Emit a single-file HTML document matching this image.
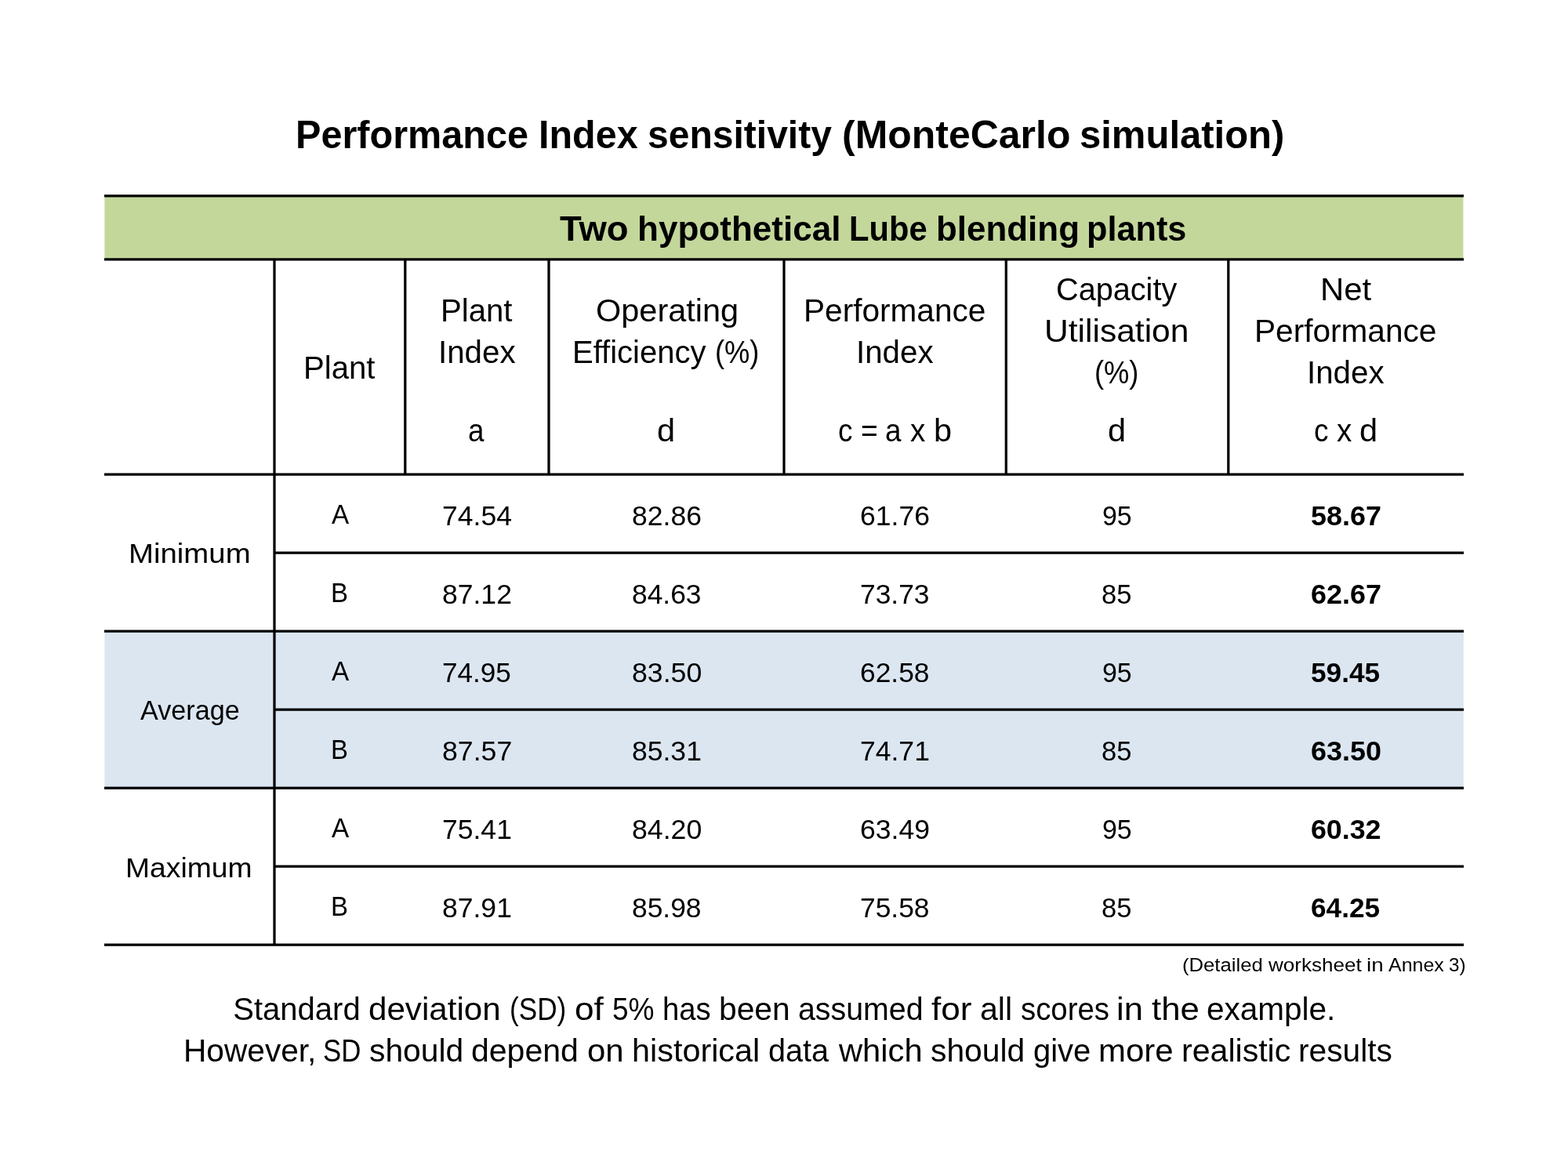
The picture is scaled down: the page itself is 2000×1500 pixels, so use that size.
<!DOCTYPE html>
<html lang="en">
<head>
<meta charset="utf-8">
<title>Performance Index sensitivity (MonteCarlo simulation)</title>
<style>
html,body{margin:0;padding:0;background:#fff}
body{width:2000px;height:1500px;position:relative;overflow:hidden;font-family:"Liberation Sans",Arial,Helvetica,sans-serif;color:#000;font-variant-ligatures:none}
#grid{position:absolute;left:0;top:0;width:2000px;height:1500px}
.t{position:absolute;white-space:nowrap;line-height:0;height:0;margin:0;padding:0;transform-origin:0 0}
.t span{display:inline-block;line-height:0;vertical-align:baseline;transform-origin:0 0;white-space:pre}
.b{font-weight:700}
</style>
</head>
<body>
<svg id="grid" width="2000" height="1500" viewBox="0 0 2000 1500">
<rect x="133.4" y="250" width="1733" height="81" fill="#C4D79B"/>
<rect x="133.4" y="805.2" width="1733.4" height="200" fill="#DCE6F1"/>
<g stroke="#000" stroke-width="3.25" fill="none">
<line x1="133.0" y1="249.9" x2="1867.0" y2="249.9"/>
<line x1="133.0" y1="330.8" x2="1867.0" y2="330.8"/>
<line x1="133.0" y1="605.2" x2="1867.0" y2="605.2"/>
<line x1="350" y1="705.2" x2="1867.0" y2="705.2"/>
<line x1="133.0" y1="805.2" x2="1867.0" y2="805.2"/>
<line x1="350" y1="905.2" x2="1867.0" y2="905.2"/>
<line x1="133.0" y1="1005.2" x2="1867.0" y2="1005.2"/>
<line x1="350" y1="1105.2" x2="1867.0" y2="1105.2"/>
<line x1="133.0" y1="1205.2" x2="1867.0" y2="1205.2"/>
<line x1="350.0" y1="330.8" x2="350.0" y2="1205.2"/>
<line x1="516.8" y1="330.8" x2="516.8" y2="605.2"/>
<line x1="700.0" y1="330.8" x2="700.0" y2="605.2"/>
<line x1="1000.0" y1="330.8" x2="1000.0" y2="605.2"/>
<line x1="1283.3" y1="330.8" x2="1283.3" y2="605.2"/>
<line x1="1566.8" y1="330.8" x2="1566.8" y2="605.2"/>
</g>
</svg>
<h1 class="t b" style="left:376.76px;top:172px;font-size:50px"><span style="width:310.12px;transform:scaleX(0.9718)">Performance </span><span style="width:138.83px;transform:scaleX(0.9701)">Index </span><span style="width:248.71px;transform:scaleX(0.9604)">sensitivity </span><span style="width:303.09px;transform:scaleX(0.9994)">(MonteCarlo </span><span style="width:261.38px;transform:scaleX(0.9801)">simulation)</span></h1>
<div class="t b" style="left:714.33px;top:292px;font-size:45px"><span style="width:98.54px;transform:scaleX(1.0099)">Two </span><span style="width:270.15px;transform:scaleX(0.9788)">hypothetical </span><span style="width:111.27px;transform:scaleX(0.927)">Lube </span><span style="width:191.75px;transform:scaleX(0.9761)">blending </span><span style="width:127.44px;transform:scaleX(0.9616)">plants</span></div>
<div class="t" style="left:387.35px;top:469px;font-size:40px;transform:scaleX(1.0038)">Plant</div>
<div class="t" style="left:562.35px;top:396px;font-size:40px;transform:scaleX(1.0038)">Plant</div>
<div class="t" style="left:559.18px;top:449px;font-size:40px;transform:scaleX(1.0071)">Index</div>
<div class="t" style="left:597.14px;top:549px;font-size:40px;transform:scaleX(0.92)">a</div>
<div class="t" style="left:759.75px;top:396px;font-size:40px;transform:scaleX(1.037)">Operating</div>
<div class="t" style="left:730.01px;top:449px;font-size:40px"><span style="width:182.14px">Efficiency </span><span style="width:56.43px;transform:scaleX(0.907)">(%)</span></div>
<div class="t" style="left:838.26px;top:549px;font-size:40px;transform:scaleX(1.037)">d</div>
<div class="t" style="left:1025.32px;top:396px;font-size:40px;transform:scaleX(1.0149)">Performance</div>
<div class="t" style="left:1092.18px;top:449px;font-size:40px;transform:scaleX(1.0071)">Index</div>
<div class="t" style="left:1069.13px;top:549px;font-size:40px"><span style="width:28.85px;transform:scaleX(0.9231)">c </span><span style="width:31.34px;transform:scaleX(0.931)">= </span><span style="width:32.07px;transform:scaleX(0.92)">a </span><span style="width:29.51px;transform:scaleX(0.9643)">x </span><span style="width:23.07px;transform:scaleX(1.037)">b</span></div>
<div class="t" style="left:1347.05px;top:369px;font-size:40px;transform:scaleX(0.9913)">Capacity</div>
<div class="t" style="left:1332.25px;top:422px;font-size:40px;transform:scaleX(1.0636)">Utilisation</div>
<div class="t" style="left:1396.36px;top:475px;font-size:40px;transform:scaleX(0.907)">(%)</div>
<div class="t" style="left:1412.76px;top:549px;font-size:40px;transform:scaleX(1.037)">d</div>
<div class="t" style="left:1683.62px;top:369px;font-size:40px;transform:scaleX(1.0455)">Net</div>
<div class="t" style="left:1600.32px;top:422px;font-size:40px;transform:scaleX(1.0149)">Performance</div>
<div class="t" style="left:1667.18px;top:475px;font-size:40px;transform:scaleX(1.0071)">Index</div>
<div class="t" style="left:1675.89px;top:549px;font-size:40px"><span style="width:28.74px;transform:scaleX(0.9231)">c </span><span style="width:29.21px;transform:scaleX(0.9643)">x </span><span style="width:23.07px;transform:scaleX(1.037)">d</span></div>
<div class="t" style="left:422.58px;top:656px;font-size:35.8px;transform:scaleX(0.9296)">A</div>
<div class="t" style="left:564.20px;top:658px;font-size:35.8px;transform:scaleX(0.9923)">74.54</div>
<div class="t" style="left:805.69px;top:658px;font-size:35.8px;transform:scaleX(0.9923)">82.86</div>
<div class="t" style="left:1097.19px;top:658px;font-size:35.8px;transform:scaleX(0.9923)">61.76</div>
<div class="t" style="left:1405.55px;top:658px;font-size:35.8px;transform:scaleX(0.9455)">95</div>
<div class="t b" style="left:1671.89px;top:658px;font-size:35.8px;transform:scaleX(1.0038)">58.67</div>
<div class="t" style="left:422.42px;top:756px;font-size:35.8px;transform:scaleX(0.92)">B</div>
<div class="t" style="left:564.19px;top:758px;font-size:35.8px;transform:scaleX(0.9922)">87.12</div>
<div class="t" style="left:805.70px;top:758px;font-size:35.8px;transform:scaleX(0.9884)">84.63</div>
<div class="t" style="left:1097.20px;top:758px;font-size:35.8px;transform:scaleX(0.9884)">73.73</div>
<div class="t" style="left:1404.85px;top:758px;font-size:35.8px;transform:scaleX(0.9636)">85</div>
<div class="t b" style="left:1671.89px;top:758px;font-size:35.8px;transform:scaleX(1.0038)">62.67</div>
<div class="t" style="left:422.58px;top:856px;font-size:35.8px;transform:scaleX(0.9296)">A</div>
<div class="t" style="left:564.22px;top:858px;font-size:35.8px;transform:scaleX(0.9806)">74.95</div>
<div class="t" style="left:805.69px;top:858px;font-size:35.8px;transform:scaleX(0.9961)">83.50</div>
<div class="t" style="left:1097.20px;top:858px;font-size:35.8px;transform:scaleX(0.9884)">62.58</div>
<div class="t" style="left:1405.55px;top:858px;font-size:35.8px;transform:scaleX(0.9455)">95</div>
<div class="t b" style="left:1671.92px;top:858px;font-size:35.8px;transform:scaleX(0.9847)">59.45</div>
<div class="t" style="left:422.42px;top:956px;font-size:35.8px;transform:scaleX(0.92)">B</div>
<div class="t" style="left:564.19px;top:958px;font-size:35.8px;transform:scaleX(0.9961)">87.57</div>
<div class="t" style="left:805.69px;top:958px;font-size:35.8px;transform:scaleX(0.9922)">85.31</div>
<div class="t" style="left:1097.20px;top:958px;font-size:35.8px;transform:scaleX(0.9922)">74.71</div>
<div class="t" style="left:1404.85px;top:958px;font-size:35.8px;transform:scaleX(0.9636)">85</div>
<div class="t b" style="left:1671.89px;top:958px;font-size:35.8px;transform:scaleX(1.0038)">63.50</div>
<div class="t" style="left:422.58px;top:1056px;font-size:35.8px;transform:scaleX(0.9296)">A</div>
<div class="t" style="left:564.20px;top:1058px;font-size:35.8px;transform:scaleX(0.9922)">75.41</div>
<div class="t" style="left:805.69px;top:1058px;font-size:35.8px;transform:scaleX(0.9961)">84.20</div>
<div class="t" style="left:1097.19px;top:1058px;font-size:35.8px;transform:scaleX(0.9923)">63.49</div>
<div class="t" style="left:1405.55px;top:1058px;font-size:35.8px;transform:scaleX(0.9455)">95</div>
<div class="t b" style="left:1671.90px;top:1058px;font-size:35.8px">60.32</div>
<div class="t" style="left:422.42px;top:1156px;font-size:35.8px;transform:scaleX(0.92)">B</div>
<div class="t" style="left:564.19px;top:1158px;font-size:35.8px;transform:scaleX(0.9922)">87.91</div>
<div class="t" style="left:805.70px;top:1158px;font-size:35.8px;transform:scaleX(0.9884)">85.98</div>
<div class="t" style="left:1097.20px;top:1158px;font-size:35.8px;transform:scaleX(0.9884)">75.58</div>
<div class="t" style="left:1404.85px;top:1158px;font-size:35.8px;transform:scaleX(0.9636)">85</div>
<div class="t b" style="left:1671.92px;top:1158px;font-size:35.8px;transform:scaleX(0.9847)">64.25</div>
<div class="t" style="left:163.51px;top:706px;font-size:35px;transform:scaleX(1.0961)">Minimum</div>
<div class="t" style="left:178.50px;top:906px;font-size:35px;transform:scaleX(0.9766)">Average</div>
<div class="t" style="left:160.40px;top:1107px;font-size:35px;transform:scaleX(1.0654)">Maximum</div>
<p class="t" style="left:1508.45px;top:1231px;font-size:24.5px"><span style="width:109.50px;transform:scaleX(1.0477)">(Detailed </span><span style="width:124.90px;transform:scaleX(1.0624)">worksheet </span><span style="width:27.94px;transform:scaleX(1.1336)">in </span><span style="width:77.37px;transform:scaleX(1.0198)">Annex </span><span style="width:21.53px;transform:scaleX(0.9879)">3)</span></p>
<p class="t" style="left:297.30px;top:1287px;font-size:40px"><span style="width:172.87px">Standard </span><span style="width:179.65px;transform:scaleX(1.0534)">deviation </span><span style="width:83.30px;transform:scaleX(0.8792)">(SD) </span><span style="width:47.67px;transform:scaleX(1.1052)">of </span><span style="width:64.33px;transform:scaleX(0.9267)">5% </span><span style="width:71.88px;transform:scaleX(0.9557)">has </span><span style="width:101.04px;transform:scaleX(1.0198)">been </span><span style="width:169.96px;transform:scaleX(0.983)">assumed </span><span style="width:61.96px;transform:scaleX(1.1028)">for </span><span style="width:51.83px;transform:scaleX(1.0279)">all </span><span style="width:122.72px;transform:scaleX(0.9593)">scores </span><span style="width:44.10px;transform:scaleX(1.0896)">in </span><span style="width:70.43px;transform:scaleX(1.0942)">the </span><span style="width:164.36px;transform:scaleX(1.0126)">example.</span></p>
<p class="t" style="left:233.61px;top:1340px;font-size:40px"><span style="width:178.64px;transform:scaleX(1.016)">However, </span><span style="width:58.49px;transform:scaleX(0.8704)">SD </span><span style="width:130.67px;transform:scaleX(1.0198)">should </span><span style="width:147.51px;transform:scaleX(1.0251)">depend </span><span style="width:57.11px;transform:scaleX(1.0489)">on </span><span style="width:173.62px;transform:scaleX(1.0343)">historical </span><span style="width:90.50px;transform:scaleX(0.9905)">data </span><span style="width:117.06px;transform:scaleX(1.0428)">which </span><span style="width:130.38px;transform:scaleX(1.0198)">should </span><span style="width:83.73px;transform:scaleX(0.9993)">give </span><span style="width:105.65px;transform:scaleX(1.0493)">more </span><span style="width:149.42px;transform:scaleX(1.0271)">realistic </span><span style="width:119.80px;transform:scaleX(1.0169)">results</span></p>
</body>
</html>
